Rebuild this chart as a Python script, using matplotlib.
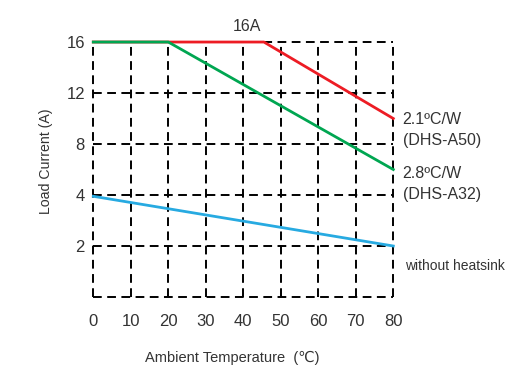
import matplotlib.pyplot as plt
import numpy as np

plt.rcParams['font.family'] = ['Liberation Sans', 'DejaVu Sans']

# derating curves (ambient temp in C, load current in A)
temp_a50 = [0, 45.5, 80]
amps_a50 = [16, 16, 10]
temp_a32 = [0, 20, 80]
amps_a32 = [16, 16, 6]
temp_bare = [0, 80]
amps_bare = [3.95, 2]

x_ticks = [0, 10, 20, 30, 40, 50, 60, 70, 80]
y_ticks = [2, 4, 8, 12, 16]
y_grid = [0, 2, 4, 8, 12, 16]

TXT = "#333333"


# y axis is stretched below 4 A: 4->2 takes same room as 8->4
def fwd(v):
    v = np.asarray(v, dtype=float)
    return np.where(v >= 4, v, 4 - (4 - v) * 2)

def inv(p):
    p = np.asarray(p, dtype=float)
    return np.where(p >= 4, p, 4 - (4 - p) / 2)


fig = plt.figure(figsize=(5.16, 3.69), dpi=100)
ax = fig.add_axes([0.1808, 0.1951, 0.5814, 0.691])
ax.set_yscale('function', functions=(fwd, inv))
ax.set_xlim(0, 80)
ax.set_ylim(0, 16)

dash = dict(color="black", lw=1.4, linestyle=(0, (4.5, 2.8)), zorder=1, clip_on=False)
for x in x_ticks:
    ax.axvline(x, **dash)
for y in y_grid:
    ax.axhline(y, **dash)

ax.plot(temp_a50, amps_a50, color="#ed1c24", lw=2, zorder=3, clip_on=False)
ax.plot(temp_a32, amps_a32, color="#00a651", lw=2, zorder=4, clip_on=False)
ax.plot(temp_bare, amps_bare, color="#27aae1", lw=2, zorder=3, clip_on=False)

for s in ax.spines.values():
    s.set_visible(False)
ax.set_xticks(x_ticks)
ax.set_yticks(y_ticks)
ax.yaxis.set_minor_locator(plt.NullLocator())
ax.yaxis.set_minor_formatter(plt.NullFormatter())
ax.set_yticklabels([str(v) for v in y_ticks])
ax.tick_params(length=0, labelsize=12, labelcolor=TXT)
ax.tick_params(axis='x', pad=12)
ax.tick_params(axis='y', pad=6)

fig.text(0.45, 0.03, "Ambient Temperature  (\u2103)", fontsize=10.5, color=TXT,
         ha="center", va="center")
fig.text(0.089, 0.563, "Load Current (A)", fontsize=10.2, color=TXT,
         ha="center", va="center", rotation=90)

ax.text(41, 17.25, "16A", fontsize=11.5, color=TXT, ha="center", va="center")
ax.text(82.5, 9.1, "2.1\u00baC/W\n(DHS-A50)", fontsize=11.5, color=TXT,
        va="center", ha="left", linespacing=1.5)
ax.text(82.5, 4.85, "2.8\u00baC/W\n(DHS-A32)", fontsize=11.5, color=TXT,
        va="center", ha="left", linespacing=1.5)
ax.text(83, 1.2, "without heatsink", fontsize=10, color=TXT, va="center", ha="left")

fig.savefig("out.png", dpi=100)
